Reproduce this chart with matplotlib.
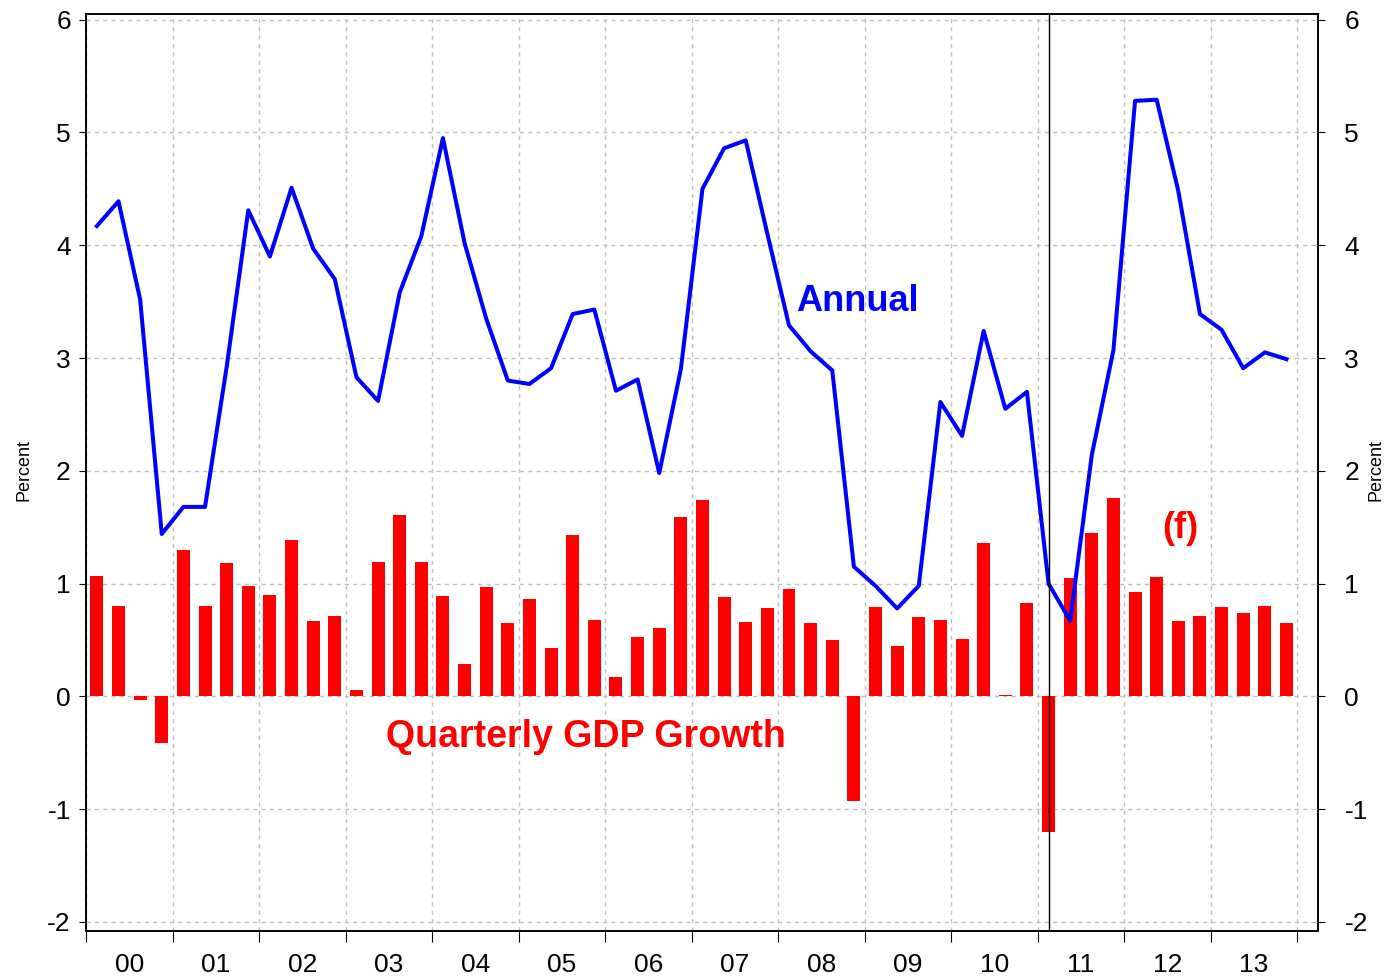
import numpy as np
import matplotlib.pyplot as plt

plt.rcParams['font.family'] = ['Liberation Sans', 'DejaVu Sans']
plt.rcParams['axes.unicode_minus'] = False

# quarterly data 2000Q1 .. 2013Q4
quarterly = [1.07, 0.80, -0.03, -0.41,
             1.30, 0.80, 1.18, 0.98,
             0.90, 1.39, 0.67, 0.71,
             0.06, 1.19, 1.61, 1.19,
             0.89, 0.29, 0.97, 0.65,
             0.86, 0.43, 1.43, 0.68,
             0.17, 0.53, 0.61, 1.59,
             1.74, 0.88, 0.66, 0.78,
             0.95, 0.65, 0.50, -0.93,
             0.79, 0.45, 0.70, 0.68,
             0.51, 1.36, 0.01, 0.83,
             -1.20, 1.05, 1.45, 1.76,
             0.93, 1.06, 0.67, 0.71,
             0.79, 0.74, 0.80, 0.65]

annual = [4.17, 4.39, 3.52, 1.44,
          1.68, 1.68, 2.92, 4.31,
          3.90, 4.51, 3.97, 3.70,
          2.83, 2.62, 3.58, 4.08,
          4.95, 4.02, 3.35, 2.80,
          2.77, 2.91, 3.39, 3.43,
          2.71, 2.81, 1.98, 2.90,
          4.50, 4.86, 4.93, 4.10,
          3.29, 3.06, 2.89, 1.15,
          0.98, 0.78, 0.98, 2.61,
          2.31, 3.24, 2.55, 2.70,
          1.00, 0.67, 2.14, 3.07,
          5.28, 5.29, 4.48, 3.39,
          3.25, 2.91, 3.05, 2.99]

years = list(range(2000, 2014))
year_labels = [f"{y % 100:02d}" for y in years]
forecast_start = 2011.125

x = 2000 + (np.arange(len(quarterly)) + 0.5) / 4

fig = plt.figure(figsize=(13.88, 9.8), dpi=100)
ax = fig.add_axes([0.062, 0.05, 0.8876, 0.9357])
ax2 = ax.twinx()

ax.bar(x, quarterly, width=0.15, color='#ff0000', zorder=3)
ax.plot(x, annual, color='#0000ff', lw=2.9, zorder=4)
ax.axvline(forecast_start, color='black', lw=1, zorder=5)

ax.set_xlim(2000, 2014.24)
ax.set_ylim(-2.08, 6.05)
ax2.set_ylim(ax.get_ylim())

ax.set_yticks(range(-2, 7))
ax2.set_yticks(range(-2, 7))
ax.set_xticks(range(2000, 2015))
ax.set_xticklabels([])
ax.set_xticks([y + 0.5 for y in years], minor=True)
ax.set_xticklabels(year_labels, minor=True, fontsize=19)
ax.tick_params(axis='x', which='minor', length=0, pad=16)
ax.tick_params(axis='x', which='major', length=8, direction='out')
ax.tick_params(axis='y', labelsize=19, length=5, direction='out', pad=6)
ax2.tick_params(axis='y', labelsize=19, length=5, direction='out', pad=14)

ax.grid(True, which='major', color='#c0c0c0', linestyle=(0, (3, 3)), lw=1, zorder=0)
for a in (ax, ax2):
    for s in a.spines.values():
        s.set_linewidth(1.2)

fig.text(24 / 1388, 0.52, 'Percent', fontsize=13, rotation=90,
         ha='center', va='center')
fig.text(1376 / 1388, 0.52, 'Percent', fontsize=13, rotation=90,
         ha='center', va='center')

ax.text(2008.92, 3.5, 'Annual', color='#0000ff', fontsize=26,
        fontweight='bold', ha='center', va='center')
ax.text(2005.78, -0.36, 'Quarterly GDP Growth', color='#ff0000', fontsize=27,
        fontweight='bold', ha='center', va='center')
ax.text(2012.65, 1.49, '(f)', color='#ff0000', fontsize=26,
        fontweight='bold', ha='center', va='center')

fig.savefig('out.png', dpi=100)
